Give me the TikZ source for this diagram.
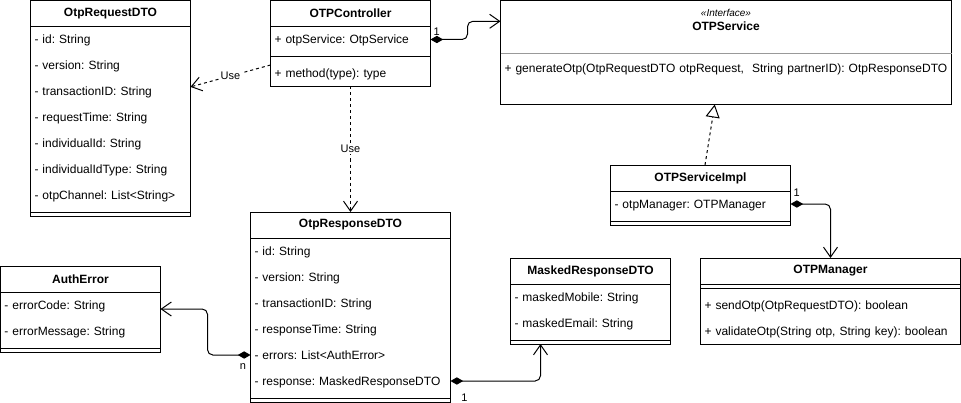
\documentclass[tikz,border=0pt]{standalone}
\usepackage{fontspec}
\setmainfont{Liberation Sans}
\frenchspacing
\usetikzlibrary{arrows.meta, positioning, calc}

\tikzset{
  % Class boxes
  umlbox/.style={
    draw, line width=0.75pt, fill=white, anchor=north west,
    inner sep=0pt, outer sep=0pt,
  },
  umlhead/.style={
    minimum width=#1, minimum height=19.5pt, inner sep=0pt, outer sep=0pt,
    anchor=north west, font=\fontsize{9}{11}\selectfont\bfseries,
  },
  umlrow/.style={
    text width=#1, minimum height=19.5pt, inner xsep=3pt, inner ysep=0pt,
    outer sep=0pt, text height=7.1pt, text depth=1pt, align=left,
    font=\fontsize{9}{11}\selectfont,
  },
  stereo/.style={font=\fontsize{7.5}{9}\selectfont\itshape, inner sep=0pt},
  % Arrows
  usearrow/.style={-{Straight Barb[length=7.5pt, width=10.5pt]}, line width=0.75pt,
    dash pattern=on 2.25pt off 2.25pt},
  comparrow/.style={{Diamond[length=9.5pt, width=5.5pt]}-{Straight Barb[length=7.5pt, width=10.5pt]},
    line width=0.75pt, rounded corners=4pt},
  implarrow/.style={-{Triangle[open, length=9.75pt, width=10.5pt]}, line width=0.75pt,
    dash pattern=on 2.25pt off 2.25pt},
  % Labels on arrows
  arrlabel/.style={font=\fontsize{8.25}{10}\selectfont, fill=white, inner sep=1pt},
  multlabel/.style={font=\fontsize{8.25}{10}\selectfont, inner sep=1pt},
}

\begin{document}
\begin{tikzpicture}[x=0.75pt, y=-0.75pt, line width=0.75pt]
  \useasboundingbox (0,0) rectangle (961,403);

  % OtpRequestDTO
  \node[umlbox, minimum width=120pt, minimum height=162pt] (req) at (30.5,0.5) {};
  \node[umlhead=120pt] (reqhead) at (req.north west) {OtpRequestDTO};
  \node[umlrow=114pt, below=0pt of reqhead] (reqid) {- id: String};
  \node[umlrow=114pt, below=0pt of reqid] (reqver) {- version: String};
  \node[umlrow=114pt, below=0pt of reqver] (reqtxn) {- transactionID: String};
  \node[umlrow=114pt, below=0pt of reqtxn] (reqtime) {- requestTime: String};
  \node[umlrow=114pt, below=0pt of reqtime] (reqind) {- individualId: String};
  \node[umlrow=114pt, below=0pt of reqind] (reqindt) {- individualIdType: String};
  \node[umlrow=114pt, below=0pt of reqindt] (reqchan) {- otpChannel: List<String>};
  \draw (reqhead.south west) -- (reqhead.south east);
  \draw ([yshift=-3pt]reqchan.south west) -- ([yshift=-3pt]reqchan.south east);

  % OTPController
  \node[umlbox, minimum width=120pt, minimum height=64.5pt] (ctl) at (270.5,0.5) {};
  \node[umlhead=120pt] (ctlhead) at (ctl.north west) {OTPController};
  \node[umlrow=114pt, below=0pt of ctlhead] (ctlsvc) {+ otpService: OtpService};
  \node[umlrow=114pt, below=6pt of ctlsvc] (ctlmeth) {+ method(type): type};
  \draw (ctlhead.south west) -- (ctlhead.south east);
  \draw ([yshift=-3pt]ctlsvc.south west) -- ([yshift=-3pt]ctlsvc.south east);

  % OTPService (interface)
  \node[umlbox, minimum width=338.25pt, minimum height=78pt] (srv) at (500.5,0.5) {};
  \node[umlhead=338.25pt, minimum height=39.75pt] (srvhead) at (srv.north west) {};
  \node[stereo] (srvstereo) at ([yshift=-9.4pt]srvhead.north) {<<Interface>>};
  \node[font=\fontsize{9}{11}\selectfont\bfseries, inner sep=0pt] (srvname)
    at ([yshift=-19.5pt]srvhead.north) {OTPService};
  \node[umlrow=332.25pt, below=1.5pt of srvhead] (srvgen)
    {+ generateOtp(OtpRequestDTO otpRequest,~ String partnerID): OtpResponseDTO};
  \draw[black!40] (srvhead.south west) -- (srvhead.south east);

  % OTPServiceImpl
  \node[umlbox, minimum width=135pt, minimum height=45pt] (impl) at (610.5,165) {};
  \node[umlhead=135pt] (implhead) at (impl.north west) {OTPServiceImpl};
  \node[umlrow=129pt, below=0pt of implhead] (implmgr) {- otpManager: OTPManager};
  \draw (implhead.south west) -- (implhead.south east);
  \draw ([yshift=-3pt]implmgr.south west) -- ([yshift=-3pt]implmgr.south east);

  % OTPManager
  \node[umlbox, minimum width=195pt, minimum height=64.5pt] (mgr) at (700.5,258) {};
  \node[umlhead=195pt] (mgrhead) at (mgr.north west) {OTPManager};
  \node[umlrow=189pt, below=6pt of mgrhead] (mgrsend) {+ sendOtp(OtpRequestDTO): boolean};
  \node[umlrow=189pt, below=0pt of mgrsend] (mgrval) {+ validateOtp(String otp, String key): boolean};
  \draw (mgrhead.south west) -- (mgrhead.south east);
  \draw ([yshift=-3pt]mgrhead.south west) -- ([yshift=-3pt]mgrhead.south east);

  % OtpResponseDTO
  \node[umlbox, minimum width=150pt, minimum height=142.5pt] (resp) at (250.5,212) {};
  \node[umlhead=150pt] (resphead) at (resp.north west) {OtpResponseDTO};
  \node[umlrow=144pt, below=0pt of resphead] (respid) {- id: String};
  \node[umlrow=144pt, below=0pt of respid] (respver) {- version: String};
  \node[umlrow=144pt, below=0pt of respver] (resptxn) {- transactionID: String};
  \node[umlrow=144pt, below=0pt of resptxn] (resptime) {- responseTime: String};
  \node[umlrow=144pt, below=0pt of resptime] (resperr) {- errors: List<AuthError>};
  \node[umlrow=144pt, below=0pt of resperr] (respres) {- response: MaskedResponseDTO};
  \draw (resphead.south west) -- (resphead.south east);
  \draw ([yshift=-3pt]respres.south west) -- ([yshift=-3pt]respres.south east);

  % AuthError
  \node[umlbox, minimum width=120pt, minimum height=64.5pt] (err) at (0.5,266) {};
  \node[umlhead=120pt] (errhead) at (err.north west) {AuthError};
  \node[umlrow=114pt, below=0pt of errhead] (errcode) {- errorCode: String};
  \node[umlrow=114pt, below=0pt of errcode] (errmsg) {- errorMessage: String};
  \draw (errhead.south west) -- (errhead.south east);
  \draw ([yshift=-3pt]errmsg.south west) -- ([yshift=-3pt]errmsg.south east);

  % MaskedResponseDTO
  \node[umlbox, minimum width=120pt, minimum height=64.5pt] (mask) at (510.5,258) {};
  \node[umlhead=120pt] (maskhead) at (mask.north west) {MaskedResponseDTO};
  \node[umlrow=114pt, below=0pt of maskhead] (maskmob) {- maskedMobile: String};
  \node[umlrow=114pt, below=0pt of maskmob] (maskmail) {- maskedEmail: String};
  \draw (maskhead.south west) -- (maskhead.south east);
  \draw ([yshift=-3pt]maskmail.south west) -- ([yshift=-3pt]maskmail.south east);

  % Arrows
  \draw[usearrow] ($(ctl.north west)!0.75!(ctl.south west)$) --
    ($(req.north east)!0.4!(req.south east)$) node[arrlabel, midway] {Use};
  \draw[usearrow] (ctl) -- (resp) node[arrlabel, midway] {Use};
  \draw[comparrow] (ctlsvc.east)
    node[multlabel, anchor=south west, xshift=1pt, yshift=1.5pt] {1}
    -- ++(37,0) |- ($(srv.north west)!0.2!(srv.south west)$);
  \draw[implarrow] ($(impl.north west)!0.525!(impl.north east)$) --
    ($(srv.south west)!0.475!(srv.south east)$);
  \draw[comparrow] (implmgr.east)
    node[multlabel, anchor=south west, xshift=1pt, yshift=4pt] {1} -| (mgr.north);
  \draw[comparrow] (resperr.west)
    node[multlabel, anchor=north east, xshift=-2pt, yshift=-5pt] {n}
    -- ++(-43,0) |- (err.east);
  \draw[comparrow] (respres.east)
    node[multlabel, anchor=north west, xshift=6.8pt, yshift=-8pt] {1}
    -| ($(mask.south west)!0.1875!(mask.south east)$);

\end{tikzpicture}
\end{document}
